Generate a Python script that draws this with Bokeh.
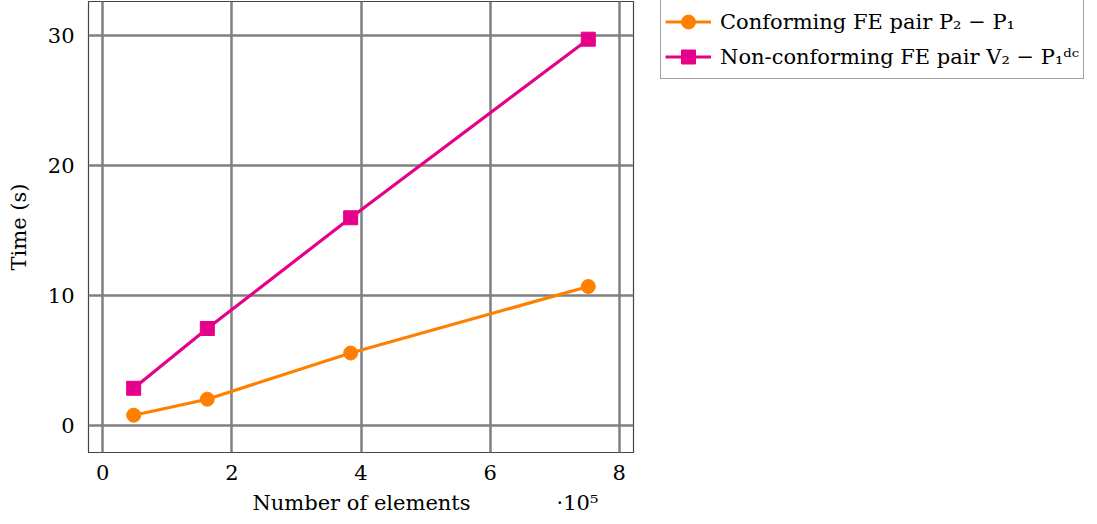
from bokeh.plotting import figure
from bokeh.models import Range1d, Legend, LegendItem, FixedTicker, LinearAxis
from bokeh.embed import file_html
from bokeh.resources import INLINE

# Data (number of elements in units of 1e5, time in seconds)
elements = [0.48, 1.62, 3.84, 7.52]
time_conforming = [0.77, 2.0, 5.55, 10.67]
time_nonconforming = [2.84, 7.44, 15.96, 29.7]
x_ticks = [0, 2, 4, 6, 8]
y_ticks = [0, 10, 20, 30]
label_conforming = "Conforming FE pair P\u2082 \u2212 P\u2081"
label_nonconforming = "Non-conforming FE pair V\u2082 \u2212 P\u2081\u1d48\u1d9c"
x_label = "Number of elements"
x_scale_text = "\u00b710\u2075"

FONT = "DejaVu Serif"
FS = "21px"
ORANGE = "#FF8000"
MAGENTA = "#E6008A"

p = figure(width=1089, height=516, output_backend="svg", toolbar_location=None,
           x_range=Range1d(-0.22, 8.22), y_range=Range1d(-2.1, 32.6))
p.frame_width = 545
p.frame_height = 451
p.min_border_left = 88
p.min_border_top = 1
p.min_border_right = 1089 - 88 - 545
p.min_border_bottom = 516 - 452

p.outline_line_color = "#444444"
p.outline_line_width = 1.2
p.background_fill_color = "white"
p.border_fill_color = "white"

p.xaxis.ticker = FixedTicker(ticks=x_ticks)
p.yaxis.ticker = FixedTicker(ticks=y_ticks)
for ax in (p.xaxis[0], p.yaxis[0]):
    ax.axis_line_color = None
    ax.major_tick_line_color = None
    ax.minor_tick_line_color = None
    ax.major_label_text_font = FONT
    ax.major_label_text_font_size = FS
    ax.major_label_text_color = "black"
    ax.axis_label_text_font = FONT
    ax.axis_label_text_font_size = FS
    ax.axis_label_text_font_style = "normal"
    ax.axis_label_text_color = "black"
p.xaxis.major_label_standoff = 6
p.yaxis.major_label_standoff = 8
p.yaxis.axis_label = "Time (s)"
p.yaxis.axis_label_standoff = 14

# second row below the x axis: axis title and the "·10^5" multiplier on one line
p.extra_x_ranges = {"labels": Range1d(0, 545)}
lab_axis = LinearAxis(x_range_name="labels",
                      ticker=FixedTicker(ticks=[273, 489]),
                      major_label_overrides={273: x_label, 489: x_scale_text})
lab_axis.axis_line_color = None
lab_axis.major_tick_line_color = None
lab_axis.minor_tick_line_color = None
lab_axis.major_label_text_font = FONT
lab_axis.major_label_text_font_size = FS
lab_axis.major_label_text_color = "black"
lab_axis.major_label_standoff = 2
p.add_layout(lab_axis, "below")

p.grid.grid_line_color = "#808080"
p.grid.grid_line_width = 2.5
p.grid.grid_line_alpha = 1.0
p.xgrid.ticker = FixedTicker(ticks=x_ticks)

r1l = p.line(elements, time_conforming, line_color=ORANGE, line_width=3.2)
r1m = p.scatter(elements, time_conforming, marker="circle", size=14,
                fill_color=ORANGE, line_color=ORANGE)
r2l = p.line(elements, time_nonconforming, line_color=MAGENTA, line_width=3.2)
r2m = p.scatter(elements, time_nonconforming, marker="square", size=14,
                fill_color=MAGENTA, line_color=MAGENTA)

legend = Legend(items=[LegendItem(label=label_conforming, renderers=[r1l, r1m]),
                       LegendItem(label=label_nonconforming, renderers=[r2l, r2m])],
                location=(27, 373))
legend.label_text_font = FONT
legend.label_text_font_size = FS
legend.label_text_color = "black"
legend.border_line_color = "#444444"
legend.border_line_width = 1.2
legend.glyph_width = 46
legend.glyph_height = 35
legend.label_height = 30
legend.label_standoff = 9
legend.spacing = 0
legend.padding = 4
legend.margin = 0
p.add_layout(legend, "right")

open("out.html", "w").write(file_html(p, INLINE))
